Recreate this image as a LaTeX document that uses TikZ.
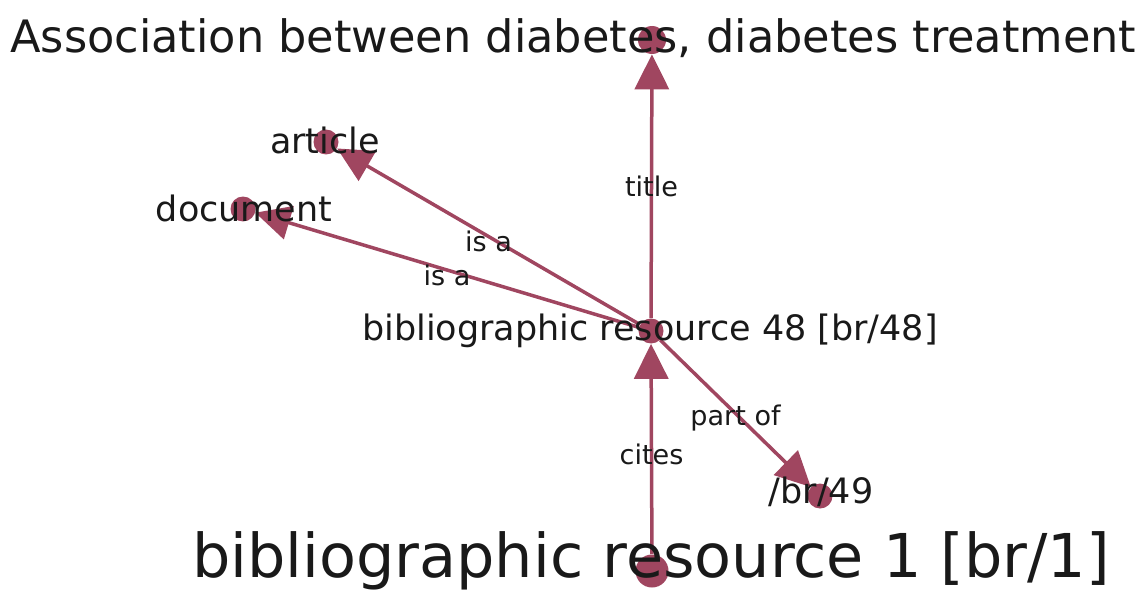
\documentclass[tikz,border=0pt]{standalone}
\usepackage{fontspec}
\setmainfont{DejaVu Sans}
\usetikzlibrary{arrows.meta}
\definecolor{vertexred}{RGB}{160,70,96}
\definecolor{textgray}{RGB}{25,25,25}

\begin{document}
\begin{tikzpicture}
[x=0.02cm, y=-0.02cm,
vertex/.style={circle, fill=vertexred, draw=none, inner sep=0pt, minimum size=0.5cm},
big vertex/.style={vertex, minimum size=0.66cm},
link/.style={vertexred, line width=0.07cm, -{Triangle[width=0.68cm,length=0.7cm]}},
edge label/.style={text=textgray, font=\fontsize{15.4}{18}\selectfont, inner sep=0pt},
small label/.style={text=textgray, font=\fontsize{19.9}{24}\selectfont, inner sep=0pt},
large label/.style={text=textgray, font=\fontsize{25.4}{30}\selectfont, inner sep=0pt},
huge label/.style={text=textgray, font=\fontsize{34.4}{40}\selectfont, inner sep=0pt}]
\useasboundingbox (0,0) rectangle (1141,591);
\node[vertex, minimum size=0.56cm] (title) at (652,40) {};
\node[vertex] (article) at (326,142) {};
\node[vertex] (document) at (243,209) {};
\node[vertex] (br48) at (651,331) {};
\node[vertex] (br49) at (820,496) {};
\node[big vertex] (br1) at (652,571) {};
\draw[link] (br48) -- (title) node[midway, edge label] {title};
\draw[link] (br48) -- (article) node[midway, edge label, yshift=-0.1cm] {is a};
\draw[link] (br48) -- (document) node[midway, edge label, yshift=-0.1cm] {is a};
\draw[link] (br48) -- (br49) node[midway, edge label, yshift=-0.1cm] {part of};
\draw[link] (br1) -- (br48) node[midway, edge label, yshift=-0.1cm] {cites};
\node[large label, anchor=west] (title text) at (10,38) {Association between diabetes, diabetes treatment};
\node[small label] (article text) at (325,140) {article};
\node[small label] (document text) at (244,208) {document};
\node[small label] (br48 text) at (650,331) {bibliographic resource 48 [br/48]};
\node[small label] (br49 text) at (821,492) {/br/49};
\node[huge label, anchor=base] (br1 text) at (651,577) {bibliographic resource 1 [br/1]};
\end{tikzpicture}
\end{document}
